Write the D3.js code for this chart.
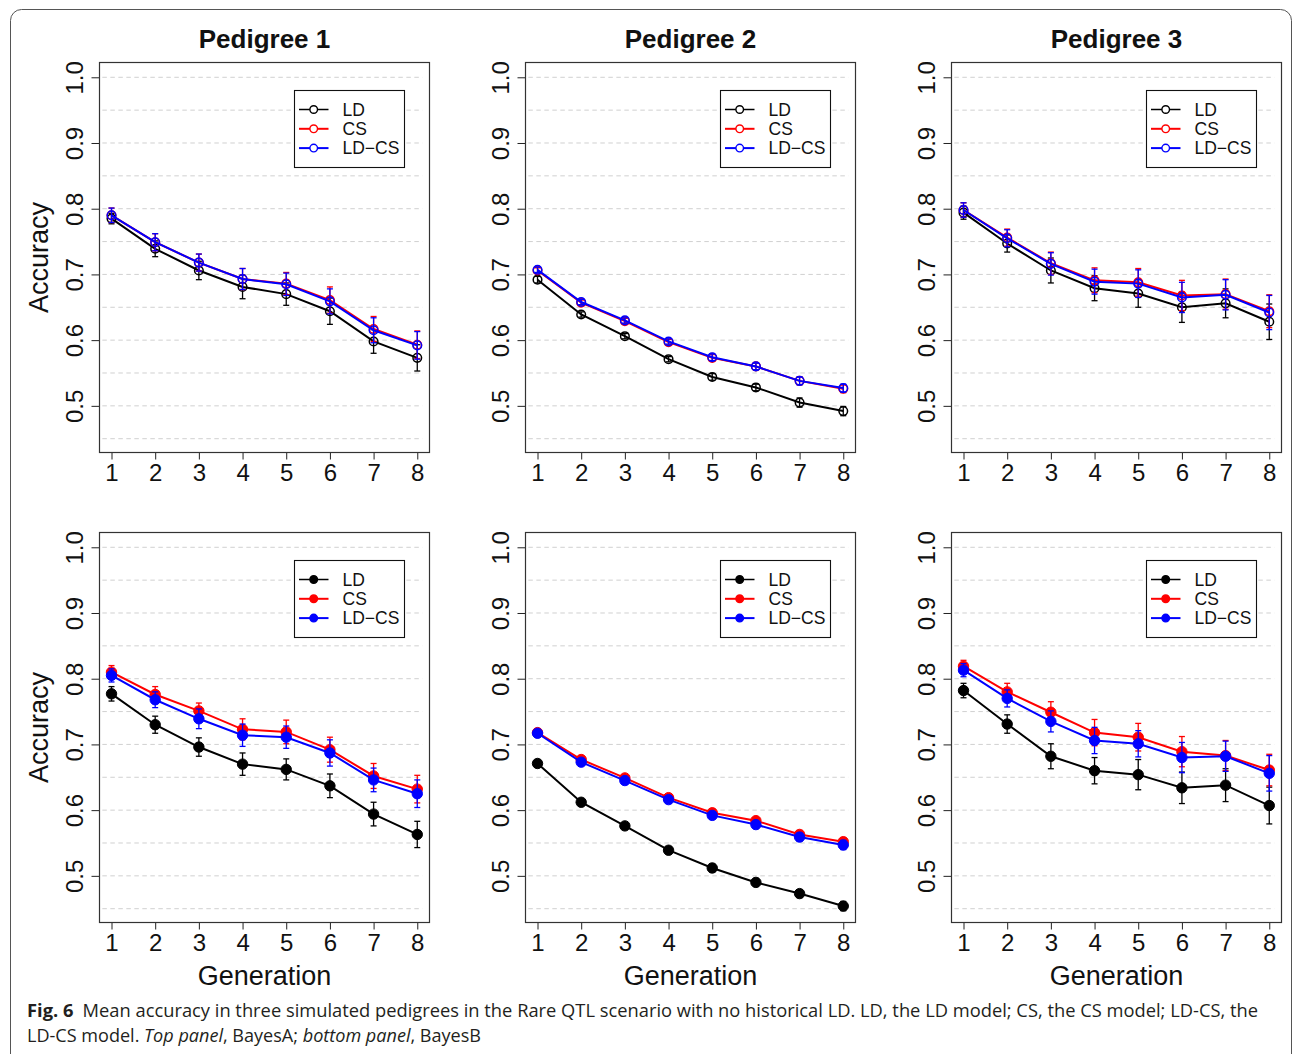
<!DOCTYPE html>
<html>
<head>
<meta charset="utf-8">
<script src="https://cdn.jsdelivr.net/npm/d3@7"></script>
<style>
  body { margin: 0; background: #fff; }
  svg { display: block; }
</style>
</head>
<body>
<svg id="chart"></svg>
<script>
// ---- data ----
const generations = [1, 2, 3, 4, 5, 6, 7, 8];
const pedigrees = ["Pedigree 1", "Pedigree 2", "Pedigree 3"];
const models = ["LD", "CS", "LD\u2212CS"];
const yTickValues = [0.5, 0.6, 0.7, 0.8, 0.9, 1.0];
const yTickLabels = ["0.5", "0.6", "0.7", "0.8", "0.9", "1.0"];
const gridValues = [0.45, 0.5, 0.55, 0.6, 0.65, 0.7, 0.75, 0.8, 0.85, 0.9, 0.95, 1.0];

// top row: BayesA  (rows = LD, CS, LD-CS)
const topP1Mean = [
  [0.785, 0.739, 0.706, 0.681, 0.670, 0.644, 0.598, 0.573],
  [0.790, 0.749, 0.718, 0.693, 0.686, 0.661, 0.617, 0.593],
  [0.790, 0.749, 0.718, 0.693, 0.685, 0.659, 0.615, 0.592]
];
const topP1Err = [
  [0.008, 0.012, 0.014, 0.018, 0.017, 0.020, 0.018, 0.020],
  [0.011, 0.013, 0.013, 0.016, 0.017, 0.020, 0.019, 0.021],
  [0.011, 0.013, 0.013, 0.016, 0.017, 0.019, 0.019, 0.021]
];
const topP2Mean = [
  [0.692, 0.639, 0.606, 0.571, 0.544, 0.528, 0.505, 0.492],
  [0.706, 0.657, 0.629, 0.597, 0.573, 0.560, 0.538, 0.526],
  [0.707, 0.658, 0.630, 0.598, 0.574, 0.560, 0.538, 0.527]
];
const topP2Err = [
  [0.005, 0.004, 0.004, 0.004, 0.005, 0.005, 0.007, 0.007],
  [0.004, 0.004, 0.004, 0.004, 0.005, 0.005, 0.006, 0.006],
  [0.004, 0.004, 0.004, 0.004, 0.005, 0.005, 0.006, 0.006]
];
const topP3Mean = [
  [0.794, 0.747, 0.706, 0.679, 0.671, 0.650, 0.656, 0.628],
  [0.798, 0.756, 0.717, 0.691, 0.688, 0.668, 0.670, 0.644],
  [0.798, 0.755, 0.716, 0.689, 0.686, 0.665, 0.669, 0.642]
];
const topP3Err = [
  [0.010, 0.013, 0.019, 0.019, 0.021, 0.023, 0.022, 0.027],
  [0.011, 0.013, 0.017, 0.019, 0.021, 0.023, 0.023, 0.025],
  [0.011, 0.013, 0.017, 0.019, 0.021, 0.023, 0.023, 0.026]
];

// bottom row: BayesB
const botP1Mean = [
  [0.777, 0.730, 0.696, 0.670, 0.662, 0.637, 0.594, 0.563],
  [0.810, 0.776, 0.751, 0.723, 0.719, 0.692, 0.652, 0.632],
  [0.805, 0.768, 0.739, 0.714, 0.711, 0.687, 0.646, 0.625]
];
const botP1Err = [
  [0.011, 0.013, 0.014, 0.017, 0.016, 0.018, 0.018, 0.020],
  [0.010, 0.012, 0.012, 0.016, 0.018, 0.019, 0.019, 0.021],
  [0.010, 0.012, 0.015, 0.017, 0.017, 0.020, 0.018, 0.021]
];
const botP2Mean = [
  [0.671, 0.612, 0.576, 0.539, 0.512, 0.490, 0.473, 0.454],
  [0.718, 0.677, 0.649, 0.619, 0.596, 0.584, 0.563, 0.552],
  [0.717, 0.673, 0.645, 0.616, 0.592, 0.578, 0.559, 0.547]
];
const botP2Err = [
  [0.004, 0.004, 0.005, 0.005, 0.006, 0.006, 0.006, 0.007],
  [0.003, 0.004, 0.004, 0.004, 0.006, 0.005, 0.006, 0.006],
  [0.003, 0.004, 0.004, 0.005, 0.006, 0.006, 0.006, 0.007]
];
const botP3Mean = [
  [0.782, 0.731, 0.682, 0.660, 0.654, 0.634, 0.638, 0.607],
  [0.819, 0.780, 0.749, 0.718, 0.711, 0.689, 0.683, 0.661],
  [0.813, 0.770, 0.735, 0.706, 0.701, 0.680, 0.682, 0.656]
];
const botP3Err = [
  [0.011, 0.014, 0.019, 0.020, 0.023, 0.024, 0.025, 0.028],
  [0.009, 0.013, 0.016, 0.020, 0.021, 0.023, 0.023, 0.024],
  [0.010, 0.013, 0.016, 0.020, 0.020, 0.023, 0.023, 0.027]
];

const captionLine1 = "Mean accuracy in three simulated pedigrees in the Rare QTL scenario with no historical LD. LD, the LD model; CS, the CS model; LD-CS, the";

// ---- layout ----
const W = 1293, H = 1054;
const colors = ["#000000", "#ff0000", "#0000ff"];
const font = "'Liberation Sans', Arial, Helvetica, sans-serif";

const svg = d3.select("#chart").attr("width", W).attr("height", H);

// outer rounded frame
svg.append("rect")
  .attr("x", 10.5).attr("y", 9.5)
  .attr("width", 1281).attr("height", 1070)
  .attr("rx", 11)
  .attr("fill", "none")
  .attr("stroke", "#555")
  .attr("stroke-width", 1);

const panels = [
  { row: 0, col: 0, mean: topP1Mean, err: topP1Err, open: true },
  { row: 0, col: 1, mean: topP2Mean, err: topP2Err, open: true },
  { row: 0, col: 2, mean: topP3Mean, err: topP3Err, open: true },
  { row: 1, col: 0, mean: botP1Mean, err: botP1Err, open: false },
  { row: 1, col: 1, mean: botP2Mean, err: botP2Err, open: false },
  { row: 1, col: 2, mean: botP3Mean, err: botP3Err, open: false }
];

const plotW = 330, plotH = 390;
const left0 = 99.5, top0 = 62.5, colStep = 426, rowStep = 470;

panels.forEach(p => {
  const x0 = left0 + p.col * colStep;
  const y0 = top0 + p.row * rowStep;

  const x = d3.scaleLinear().domain([0.725, 8.28]).range([x0, x0 + plotW]);
  const y = d3.scaleLinear().domain([0.429, 1.0225]).range([y0 + plotH, y0]);

  const g = svg.append("g");

  // dashed grid
  g.selectAll("line.grid")
    .data(gridValues)
    .enter().append("line")
    .attr("class", "grid")
    .attr("x1", x(0.79)).attr("x2", x(8.12))
    .attr("y1", d => y(d)).attr("y2", d => y(d))
    .attr("stroke", "#d0d0d0")
    .attr("stroke-width", 1)
    .attr("stroke-dasharray", "4.5,3.5");

  // axes
  const yAxis = d3.axisLeft(y)
    .tickValues(yTickValues)
    .tickSize(8)
    .tickFormat((d, i) => yTickLabels[i]);
  const ya = g.append("g").attr("transform", `translate(${x0},0)`).call(yAxis);
  ya.select(".domain").remove();
  ya.selectAll(".tick line").attr("stroke", "#222").attr("stroke-width", 1);
  ya.selectAll(".tick text")
    .attr("font-family", font)
    .attr("font-size", 24)
    .attr("fill", "#111")
    .attr("text-anchor", "middle")
    .attr("x", null).attr("dy", null)
    .attr("transform", "translate(-17,0) rotate(-90)")
    .attr("y", 0);

  const xAxis = d3.axisBottom(x).tickValues(generations).tickSize(7).tickFormat(d3.format("d"));
  const xa = g.append("g").attr("transform", `translate(0,${y0 + plotH})`).call(xAxis);
  xa.select(".domain").remove();
  xa.selectAll(".tick line").attr("stroke", "#222").attr("stroke-width", 1);
  xa.selectAll(".tick text")
    .attr("font-family", font)
    .attr("font-size", 24)
    .attr("fill", "#111")
    .attr("y", 11.5)
    .attr("dy", "0.72em");

  // plot box
  g.append("rect")
    .attr("x", x0).attr("y", y0)
    .attr("width", plotW).attr("height", plotH)
    .attr("fill", "none")
    .attr("stroke", "#333")
    .attr("stroke-width", 1.2);

  // series
  const line = d3.line().x((d, i) => x(generations[i])).y(d => y(d));
  p.mean.forEach((vals, s) => {
    const col = colors[s];
    const errs = p.err[s];
    const sg = g.append("g");

    sg.append("path")
      .datum(vals)
      .attr("d", line)
      .attr("fill", "none")
      .attr("stroke", col)
      .attr("stroke-width", 2);

    const eb = sg.selectAll("g.eb")
      .data(vals.map((v, i) => ({ g: generations[i], v: v, e: errs[i] })))
      .enter().append("g").attr("class", "eb");
    eb.append("line")
      .attr("x1", d => x(d.g)).attr("x2", d => x(d.g))
      .attr("y1", d => y(d.v - d.e)).attr("y2", d => y(d.v + d.e))
      .attr("stroke", col).attr("stroke-width", 1.3);
    [-1, 1].forEach(sign => {
      eb.append("line")
        .attr("x1", d => x(d.g) - 3).attr("x2", d => x(d.g) + 3)
        .attr("y1", d => y(d.v + sign * d.e)).attr("y2", d => y(d.v + sign * d.e))
        .attr("stroke", col).attr("stroke-width", 1.3);
    });

    sg.selectAll("circle")
      .data(vals)
      .enter().append("circle")
      .attr("cx", (d, i) => x(generations[i]))
      .attr("cy", d => y(d))
      .attr("r", p.open ? 4.3 : 5.2)
      .attr("fill", p.open ? "none" : col)
      .attr("stroke", col)
      .attr("stroke-width", p.open ? 1.5 : 1);
  });

  // legend
  const lx = x0 + 195, ly = y0 + 28;
  const lg = g.append("g").attr("transform", `translate(${lx},${ly})`);
  lg.append("rect")
    .attr("width", 110).attr("height", 77)
    .attr("fill", "#fff")
    .attr("stroke", "#111")
    .attr("stroke-width", 1.1);
  models.forEach((m, i) => {
    const ry = 19 + i * 19.3;
    lg.append("line")
      .attr("x1", 4.5).attr("x2", 34)
      .attr("y1", ry).attr("y2", ry)
      .attr("stroke", colors[i]).attr("stroke-width", i === 0 ? 1.5 : 2);
    lg.append("circle")
      .attr("cx", 19.2).attr("cy", ry)
      .attr("r", 3.8)
      .attr("fill", p.open ? "#fff" : colors[i])
      .attr("stroke", colors[i])
      .attr("stroke-width", 1.4);
    lg.append("text")
      .attr("x", 48).attr("y", ry + 6)
      .attr("font-family", font)
      .attr("font-size", 17.5)
      .attr("fill", "#111")
      .text(m);
  });

  // titles on top row, x labels on bottom row, y labels on first column
  if (p.row === 0) {
    svg.append("text")
      .attr("x", x0 + plotW / 2).attr("y", 48)
      .attr("text-anchor", "middle")
      .attr("font-family", font)
      .attr("font-weight", "bold")
      .attr("font-size", 26)
      .attr("fill", "#111")
      .text(pedigrees[p.col]);
  }
  if (p.row === 1) {
    svg.append("text")
      .attr("x", x0 + plotW / 2).attr("y", 985)
      .attr("text-anchor", "middle")
      .attr("font-family", font)
      .attr("font-size", 27)
      .attr("fill", "#111")
      .text("Generation");
  }
  if (p.col === 0) {
    svg.append("text")
      .attr("transform", `translate(48,${y0 + plotH / 2}) rotate(-90)`)
      .attr("text-anchor", "middle")
      .attr("font-family", font)
      .attr("font-size", 27)
      .attr("fill", "#111")
      .text("Accuracy");
  }
});

// caption
const capFont = "'Open Sans', 'Noto Sans', sans-serif";
const cap1 = svg.append("text")
  .attr("x", 27).attr("y", 1017)
  .attr("font-family", capFont)
  .attr("font-size", 18.5)
  .attr("fill", "#231f20")
  .attr("textLength", 1231)
  .attr("lengthAdjust", "spacingAndGlyphs");
cap1.append("tspan").attr("font-weight", "bold").text("Fig. 6");
cap1.append("tspan").text("\u2002" + captionLine1);

const cap2 = svg.append("text")
  .attr("x", 27).attr("y", 1042)
  .attr("font-family", capFont)
  .attr("font-size", 18.5)
  .attr("fill", "#231f20")
  .attr("textLength", 454)
  .attr("lengthAdjust", "spacingAndGlyphs");
cap2.append("tspan").text("LD-CS model. ");
cap2.append("tspan").attr("font-style", "italic").text("Top panel");
cap2.append("tspan").text(", BayesA; ");
cap2.append("tspan").attr("font-style", "italic").text("bottom panel");
cap2.append("tspan").text(", BayesB");
</script>
</body>
</html>
